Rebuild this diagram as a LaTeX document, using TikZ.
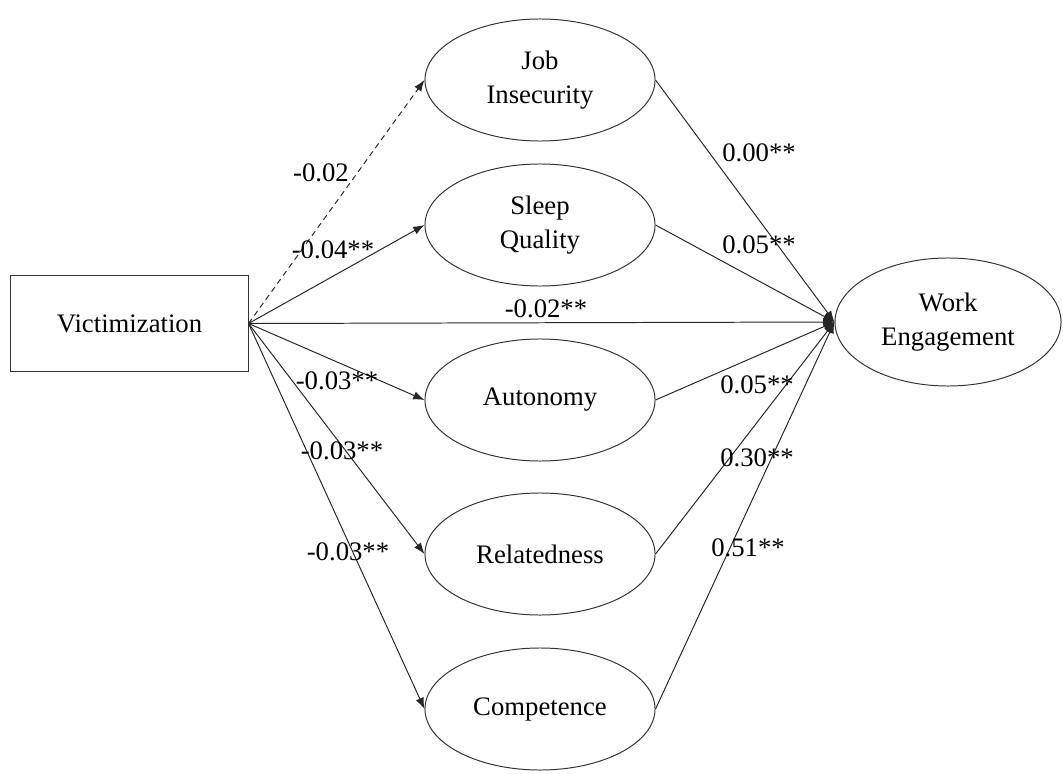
\documentclass[tikz,border=0pt]{standalone}
\usepackage{fontspec}
\setmainfont{Liberation Serif}
\usepackage{tikz}
\usetikzlibrary{shapes.geometric, arrows.meta, positioning}

\begin{document}
\begin{tikzpicture}[
    x=0.025cm, y=-0.025cm,
    every node/.style={font=\fontsize{19}{24}\selectfont},
    construct/.style={ellipse, draw=black!80, line width=0.7pt, inner sep=0pt, minimum width=5.75cm, minimum height=3.05cm, align=center},
    outcome/.style={construct, minimum width=5.65cm, minimum height=3.2cm},
    predictor/.style={rectangle, draw=black!80, line width=0.7pt, minimum width=5.925cm, minimum height=2.375cm},
    path/.style={draw=black!85, line width=0.7pt, -{Latex[length=8pt,width=6pt]}},
    nspath/.style={path, dash pattern=on 4pt off 3pt},
    coef/.style={inner sep=0pt}
]
\useasboundingbox (0,0) rectangle (1063,774);

% Predictor (left)
\node[predictor] (vict) at (129.5, 323.5) {Victimization};

% Mediators (middle column)
\node[construct] (jobins) at (540, 80) {Job\\Insecurity};
\node[construct] (sleep) at (540, 225) {Sleep\\Quality};
\node[construct] (auton) at (540, 400) {Autonomy};
\node[construct] (relat) at (540, 554) {Relatedness};
\node[construct] (compet) at (540, 709) {Competence};

% Outcome (right)
\node[outcome] (engage) at (948, 322) {Work\\Engagement};

% a paths: Victimization -> mediators
\draw[nspath] (vict.east) -- (jobins.west);
\draw[path] (vict.east) -- (sleep.west);
\draw[path] (vict.east) -- (auton.west);
\draw[path] (vict.east) -- (relat.west);
\draw[path] (vict.east) -- (compet.west);

% direct path
\draw[path] (vict.east) -- (engage.west);

% b paths: mediators -> Work Engagement
\draw[path] (jobins.east) -- (engage.west);
\draw[path] (sleep.east) -- (engage.west);
\draw[path] (auton.east) -- (engage.west);
\draw[path] (relat.east) -- (engage.west);
\draw[path] (compet.east) -- (engage.west);

% coefficients, left side
\node[coef] (aJob) at (321, 173) {-0.02};
\node[coef] (aSleep) at (333, 250) {-0.04**};
\node[coef] (cDirect) at (546, 309) {-0.02**};
\node[coef] (aAuton) at (337, 381) {-0.03**};
\node[coef] (aRelat) at (342, 451) {-0.03**};
\node[coef] (aCompet) at (348, 552) {-0.03**};

% coefficients, right side
\node[coef] (bJob) at (759, 153) {0.00**};
\node[coef] (bSleep) at (759, 245) {0.05**};
\node[coef] (bAuton) at (757, 385) {0.05**};
\node[coef] (bRelat) at (757, 458) {0.30**};
\node[coef] (bCompet) at (748, 548) {0.51**};
\end{tikzpicture}
\end{document}
